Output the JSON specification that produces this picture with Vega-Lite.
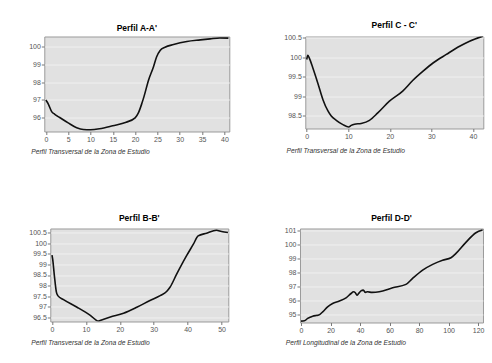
{
  "$schema": "https://vega.github.io/schema/vega-lite/v6.json",
  "background": "white",
  "padding": {"left": 27.3, "top": 19.5, "right": 5, "bottom": 5},
  "datasets": {
    "A": [
      {"x": 0, "y": 97.0}, {"x": 0.5, "y": 96.8}, {"x": 1.3, "y": 96.35}, {"x": 2.0, "y": 96.2},
      {"x": 3.1, "y": 96.02}, {"x": 5, "y": 95.72}, {"x": 6.9, "y": 95.45}, {"x": 8.4, "y": 95.35},
      {"x": 10, "y": 95.34}, {"x": 12, "y": 95.39}, {"x": 15, "y": 95.56}, {"x": 18, "y": 95.76},
      {"x": 20, "y": 96.0}, {"x": 20.7, "y": 96.26}, {"x": 21.5, "y": 96.8}, {"x": 22, "y": 97.2},
      {"x": 23, "y": 98.1}, {"x": 24.1, "y": 98.84}, {"x": 24.8, "y": 99.4}, {"x": 25.6, "y": 99.76},
      {"x": 26.7, "y": 99.94}, {"x": 28.6, "y": 100.09}, {"x": 31.6, "y": 100.26}, {"x": 34.6, "y": 100.35},
      {"x": 36.8, "y": 100.41}, {"x": 39, "y": 100.46}, {"x": 40.9, "y": 100.45}
    ],
    "C": [
      {"x": 0, "y": 99.94}, {"x": 0.25, "y": 100.05}, {"x": 0.6, "y": 99.98}, {"x": 1.45, "y": 99.73},
      {"x": 2.65, "y": 99.34}, {"x": 3.9, "y": 98.91}, {"x": 5.1, "y": 98.62}, {"x": 5.9, "y": 98.49},
      {"x": 7.1, "y": 98.38}, {"x": 8.7, "y": 98.27}, {"x": 10.1, "y": 98.21}, {"x": 10.7, "y": 98.25},
      {"x": 11.5, "y": 98.28}, {"x": 13.1, "y": 98.3}, {"x": 15.1, "y": 98.38}, {"x": 17.1, "y": 98.57},
      {"x": 19.9, "y": 98.87}, {"x": 23.1, "y": 99.13}, {"x": 25.5, "y": 99.4}, {"x": 28, "y": 99.64},
      {"x": 30.4, "y": 99.85}, {"x": 33.6, "y": 100.07}, {"x": 36.8, "y": 100.28}, {"x": 39.2, "y": 100.41},
      {"x": 42.4, "y": 100.54}
    ],
    "B": [
      {"x": 0, "y": 99.44}, {"x": 0.2, "y": 99.25}, {"x": 0.7, "y": 98.47}, {"x": 1.3, "y": 97.69},
      {"x": 1.7, "y": 97.53}, {"x": 3.4, "y": 97.34}, {"x": 7.4, "y": 96.98}, {"x": 11.3, "y": 96.6},
      {"x": 13.7, "y": 96.33}, {"x": 14.2, "y": 96.36}, {"x": 17.2, "y": 96.52}, {"x": 21.1, "y": 96.7},
      {"x": 25, "y": 96.98}, {"x": 28.9, "y": 97.3}, {"x": 31.9, "y": 97.53}, {"x": 33.8, "y": 97.72},
      {"x": 34.8, "y": 97.92}, {"x": 36.8, "y": 98.55}, {"x": 39.7, "y": 99.41}, {"x": 41.7, "y": 99.95},
      {"x": 43.1, "y": 100.34}, {"x": 45.6, "y": 100.47}, {"x": 48.5, "y": 100.61}, {"x": 50, "y": 100.55},
      {"x": 51.9, "y": 100.5}
    ],
    "D": [
      {"x": 0, "y": 94.55}, {"x": 2.3, "y": 94.57}, {"x": 4.5, "y": 94.74}, {"x": 7.9, "y": 94.9},
      {"x": 10.2, "y": 94.95}, {"x": 12, "y": 94.98}, {"x": 14.7, "y": 95.21}, {"x": 18, "y": 95.57},
      {"x": 21.4, "y": 95.81}, {"x": 26, "y": 95.98}, {"x": 30.5, "y": 96.21}, {"x": 33.9, "y": 96.52},
      {"x": 35.5, "y": 96.64}, {"x": 36.8, "y": 96.57}, {"x": 37.9, "y": 96.4}, {"x": 39, "y": 96.52},
      {"x": 40.6, "y": 96.71}, {"x": 42.2, "y": 96.76}, {"x": 43.6, "y": 96.6}, {"x": 45.1, "y": 96.64},
      {"x": 48.1, "y": 96.6}, {"x": 53, "y": 96.64}, {"x": 62.1, "y": 96.93}, {"x": 71.1, "y": 97.17},
      {"x": 75.6, "y": 97.6}, {"x": 82.4, "y": 98.19}, {"x": 89.2, "y": 98.6}, {"x": 95.9, "y": 98.9},
      {"x": 101.6, "y": 99.07}, {"x": 105, "y": 99.38}, {"x": 111.7, "y": 100.17}, {"x": 118.5, "y": 100.86},
      {"x": 123, "y": 101.05}
    ],
    "empty": []
  },
  "config": {
    "font": "Liberation Sans",
    "view": {"fill": "#e1e1e1", "stroke": "#9a9a9a", "strokeWidth": 1},
    "axis": {
      "labelFont": "Liberation Sans", "labelFontSize": 7, "labelColor": "#555555",
      "tickColor": "#777777", "tickSize": 3, "labelPadding": 1, "domain": false,
      "titleFont": "Liberation Sans", "titleFontSize": 6.7, "titleFontStyle": "italic",
      "titleFontWeight": "normal", "titleColor": "#333333"
    },
    "axisY": {"grid": true, "gridColor": "#f0f0f0", "gridWidth": 1},
    "axisX": {"grid": false},
    "title": {"font": "Liberation Sans", "fontSize": 8.5, "fontWeight": "bold", "color": "#000000", "anchor": "middle"},
    "line": {"color": "#111111", "strokeWidth": 1.6, "interpolate": "monotone"}
  },
  "vconcat": [
    {
      "hconcat": [
        {
          "data": {"name": "A"},
          "title": {"text": "Perfil A-A'", "offset": 4.5},
          "width": 185, "height": 95,
          "mark": {"type": "line", "clip": true},
          "encoding": {
            "x": {"field": "x", "type": "quantitative", "scale": {"domain": [-0.35, 41.1], "nice": false, "zero": false},
                  "axis": {"values": [0, 5, 10, 15, 20, 25, 30, 35, 40], "title": "Perfil Transversal de la Zona de Estudio",
                           "titleAnchor": "start", "titleAlign": "left", "titleX": -13.6, "titleY": 20, "titleBaseline": "middle"}},
            "y": {"field": "y", "type": "quantitative", "scale": {"domain": [95.24, 100.54], "nice": false, "zero": false},
                  "axis": {"values": [96, 97, 98, 99, 100], "format": "~r", "title": null}}
          }
        },
        {
          "data": {"name": "C"},
          "title": {"text": "Perfil C - C'", "offset": 4.5},
          "width": 178, "height": 92,
          "mark": {"type": "line", "clip": true},
          "encoding": {
            "x": {"field": "x", "type": "quantitative", "scale": {"domain": [-0.35, 42.5], "nice": false, "zero": false},
                  "axis": {"values": [0, 10, 20, 30, 40], "title": "Perfil Transversal de la Zona de Estudio",
                           "titleAnchor": "start", "titleAlign": "left", "titleX": -19.3, "titleY": 21.7, "titleBaseline": "middle"}},
            "y": {"field": "y", "type": "quantitative", "scale": {"domain": [98.17, 100.53], "nice": false, "zero": false},
                  "axis": {"values": [98.5, 99, 99.5, 100, 100.5], "format": "~r", "title": null}}
          }
        }
      ],
      "bounds": "flush",
      "spacing": 76
    },
    {
      "hconcat": [
        {
          "data": {"name": "empty"},
          "width": 6, "height": 1,
          "view": {"fill": null, "stroke": null},
          "mark": "point"
        },
        {
          "hconcat": [
            {
              "data": {"name": "B"},
              "title": {"text": "Perfil B-B'", "offset": 5.5},
              "width": 178, "height": 93,
              "mark": {"type": "line", "clip": true},
              "encoding": {
                "x": {"field": "x", "type": "quantitative", "scale": {"domain": [-0.5, 52], "nice": false, "zero": false},
                      "axis": {"values": [0, 10, 20, 30, 40, 50], "title": "Perfil Transversal de la Zona de Estudio",
                               "titleAnchor": "start", "titleAlign": "left", "titleX": -19.6, "titleY": 21.3, "titleBaseline": "middle"}},
                "y": {"field": "y", "type": "quantitative", "scale": {"domain": [96.31, 100.69], "nice": false, "zero": false},
                      "axis": {"values": [96.5, 97, 97.5, 98, 98.5, 99, 99.5, 100, 100.5], "format": "~r", "title": null}}
              }
            },
            {
              "data": {"name": "D"},
              "title": {"text": "Perfil D-D'", "offset": 4.5},
              "width": 183, "height": 94,
              "mark": {"type": "line", "clip": true},
              "encoding": {
                "x": {"field": "x", "type": "quantitative", "scale": {"domain": [-0.7, 123.3], "nice": false, "zero": false},
                      "axis": {"values": [0, 20, 40, 60, 80, 100, 120], "title": "Perfil Longitudinal de la Zona de Estudio",
                               "titleAnchor": "start", "titleAlign": "left", "titleX": -14.7, "titleY": 20, "titleBaseline": "middle"}},
                "y": {"field": "y", "type": "quantitative", "scale": {"domain": [94.45, 101.16], "nice": false, "zero": false},
                      "axis": {"values": [95, 96, 97, 98, 99, 100, 101], "format": "~r", "title": null}}
              }
            }
          ],
          "bounds": "flush",
          "spacing": 71.7
        }
      ],
      "bounds": "flush",
      "spacing": 0
    }
  ],
  "spacing": 56
}
